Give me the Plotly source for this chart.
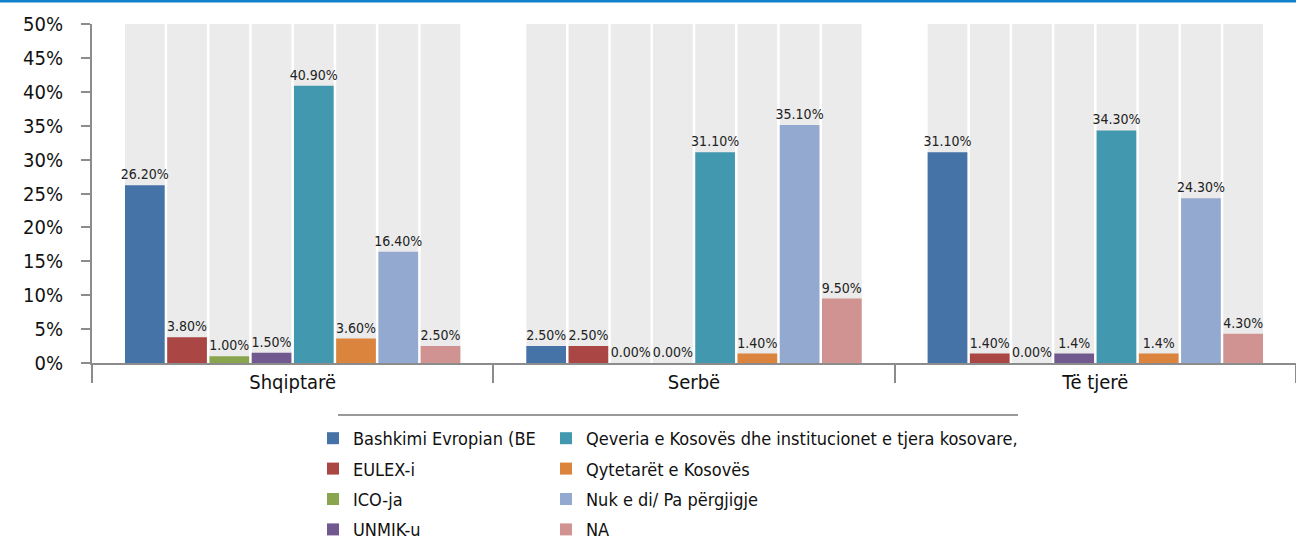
import plotly.graph_objects as go

# Respondent groups on the category axis
categories = ["Shqiptarë", "Serbë", "Të tjerë"]

# Answer options (one bar series each)
series_names = [
    "Bashkimi Evropian (BE",
    "EULEX-i",
    "ICO-ja",
    "UNMIK-u",
    "Qeveria e Kosovës dhe institucionet e tjera kosovare,",
    "Qytetarët e Kosovës",
    "Nuk e di/ Pa përgjigje",
    "NA",
]

# Percent values per group: Shqiptarë, Serbë, Të tjerë
be_values = [26.2, 2.5, 31.1]
eulex_values = [3.8, 2.5, 1.4]
ico_values = [1.0, 0.0, 0.0]
unmik_values = [1.5, 0.0, 1.4]
qeveria_values = [40.9, 31.1, 34.3]
qytetaret_values = [3.6, 1.4, 1.4]
nuk_values = [16.4, 35.1, 24.3]
na_values = [2.5, 9.5, 4.3]

# Decimal places printed in each value label
be_decimals = [2, 2, 2]
eulex_decimals = [2, 2, 2]
ico_decimals = [2, 2, 2]
unmik_decimals = [2, 2, 1]
qeveria_decimals = [2, 2, 2]
qytetaret_decimals = [2, 2, 1]
nuk_decimals = [2, 2, 2]
na_decimals = [2, 2, 2]

# Y axis
y_max = 50
y_step = 5

series_values = [be_values, eulex_values, ico_values, unmik_values,
                 qeveria_values, qytetaret_values, nuk_values, na_values]
series_decimals = [be_decimals, eulex_decimals, ico_decimals, unmik_decimals,
                   qeveria_decimals, qytetaret_decimals, nuk_decimals, na_decimals]
colors = ["#4572a7", "#aa4643", "#89a54e", "#71588f",
          "#4198af", "#db843d", "#93a9cf", "#d19392"]
# first legend column holds the first four series, second the rest
legend_ids = ["legend", "legend", "legend", "legend",
              "legend2", "legend2", "legend2", "legend2"]

FONT = "Liberation Sans Narrow, DejaVu Sans Condensed, Arial Narrow, sans-serif"

fig = go.Figure()

# light grey full-height columns behind every bar slot
for i, name in enumerate(series_names):
    fig.add_trace(go.Bar(
        x=categories,
        y=[y_max] * len(categories),
        offsetgroup=str(i),
        marker=dict(color="#ebebeb", line=dict(width=0)),
        showlegend=False,
        hoverinfo="skip",
    ))

# the data bars with their value labels
for i, name in enumerate(series_names):
    vals = series_values[i]
    decs = series_decimals[i]
    labels = [f"{v:.{d}f}%" for v, d in zip(vals, decs)]
    fig.add_trace(go.Bar(
        x=categories,
        y=vals,
        name=name,
        offsetgroup=str(i),
        legendgroup=str(i),
        legend=legend_ids[i],
        marker=dict(color=colors[i], line=dict(width=0)),
        text=labels,
        textposition="outside",
        textfont=dict(family=FONT, size=14, color="#222222"),
        constraintext="none",
        cliponaxis=False,
    ))

legend_common = dict(
    orientation="v",
    xref="container",
    yref="container",
    xanchor="left",
    yanchor="top",
    bgcolor="rgba(0,0,0,0)",
    font=dict(family=FONT, size=18, color="#111111"),
    traceorder="grouped",
    tracegroupgap=4,
    itemclick=False,
    itemdoubleclick=False,
)

fig.update_layout(
    width=1296,
    height=542,
    margin=dict(l=92, r=0, t=24, b=179, autoexpand=False),
    paper_bgcolor="white",
    plot_bgcolor="white",
    barmode="group",
    bargap=0.158,
    bargroupgap=0.06,
    font=dict(family=FONT, size=19, color="#111111"),
    legend=dict(x=313 / 1296, y=1 - 420 / 542, **legend_common),
    legend2=dict(x=546 / 1296, y=1 - 420 / 542, **legend_common),
    xaxis=dict(
        showline=True,
        linecolor="#8c8c8c",
        linewidth=2,
        ticks="outside",
        tickson="boundaries",
        ticklen=18,
        tickwidth=2,
        tickcolor="#8c8c8c",
        showgrid=False,
        tickangle=0,
        tickfont=dict(family=FONT, size=20, color="#111111"),
    ),
    yaxis=dict(
        range=[0, y_max],
        dtick=y_step,
        tick0=0,
        ticksuffix="%",
        showline=True,
        linecolor="#8c8c8c",
        linewidth=2,
        ticks="outside",
        ticklen=9,
        tickwidth=2,
        tickcolor="#8c8c8c",
        showgrid=False,
        zeroline=False,
        ticklabelstandoff=14,
        tickfont=dict(family=FONT, size=20, color="#111111"),
    ),
    shapes=[
        # blue rule along the top edge
        dict(type="line", xref="paper", yref="paper",
             x0=-92 / 1204, x1=1.0, y0=(363 - 1) / 339, y1=(363 - 1) / 339,
             line=dict(color="#1380cc", width=3)),
        # grey rule above the legend
        dict(type="line", xref="paper", yref="paper",
             x0=(338 - 92) / 1204, x1=(1018 - 92) / 1204,
             y0=(363 - 415) / 339, y1=(363 - 415) / 339,
             line=dict(color="#9a9a9a", width=2)),
    ],
)

fig.write_html("out.html")
